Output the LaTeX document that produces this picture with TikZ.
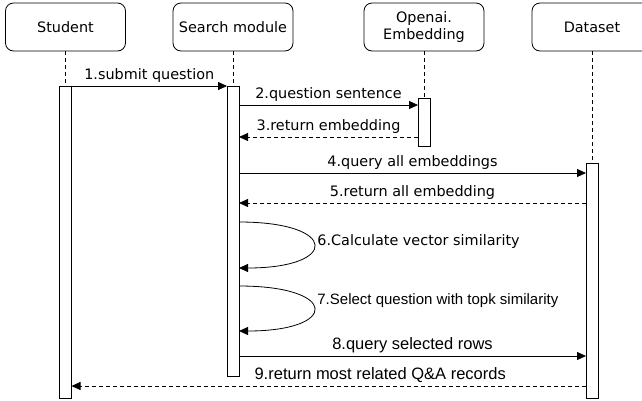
\documentclass[tikz,border=0pt]{standalone}
\usepackage{fontspec}
\setmainfont{DejaVu Sans}
\newfontfamily\arialfont{Liberation Sans}
\usetikzlibrary{arrows.meta}

\begin{document}
\begin{tikzpicture}[x=1pt,y=-1pt,>={Triangle[length=9pt,width=8pt]},
  line width=0.8pt,font=\fontsize{14.4}{17}\selectfont,
  actor/.style={draw,rounded corners=8pt,minimum width=120pt,
    minimum height=48pt,align=center,inner sep=0pt,outer sep=0pt},
  bar/.style={draw,fill=white,minimum width=12pt,inner sep=0pt,outer sep=0pt},
  life/.style={dashed,dash pattern=on 4pt off 3pt,line width=0.7pt},
  msg/.style={->},
  ret/.style={->,dashed,dash pattern=on 4pt off 3pt},
  lbl/.style={inner sep=3pt},
  arl/.style={inner sep=3pt,font=\arialfont\fontsize{16.5}{19}\selectfont}]

  \useasboundingbox (0,0) rectangle (642,400);
  \clip (0,0) rectangle (642,400);

  % ---- header boxes ----
  \node[actor] (student) at (65.5,27) {Student};
  \node[actor] (search)  at (233,27)  {Search module};
  \node[actor] (openai)  at (424,27)  {Openai.\\Embedding};
  \node[actor] (dataset) at (592,27)  {Dataset};

  % ---- activation bars ----
  \node[bar,minimum height=312pt] (bstu) at (65.5,242) {};
  \node[bar,minimum height=290pt] (bsea) at (233,231)  {};
  \node[bar,minimum height=48pt]  (bopn) at (424,122)  {};
  \node[bar,minimum height=235pt] (bdat) at (592,280.5) {};

  % ---- lifelines ----
  \draw[life] (student) -- (bstu);
  \draw[life] (search)  -- (bsea);
  \draw[life] (openai)  -- (bopn);
  \draw[life] (dataset) -- (bdat);

  % ---- messages ----
  \draw[msg] (bstu.east |- 0,86) -- node[lbl,above] {1.submit question} (bsea.west |- 0,86);
  \draw[msg] (bsea.east |- 0,105) -- node[lbl,above] {2.question sentence} (bopn.west |- 0,105);
  \draw[ret] (bopn.west |- 0,137) -- node[lbl,above] {3.return embedding} (bsea.east |- 0,137);
  \draw[msg] (bsea.east |- 0,173) -- node[lbl,above] {4.query all embeddings} (bdat.west |- 0,173);
  \draw[ret] (bdat.west |- 0,203) -- node[lbl,above] {5.return all embedding} (bsea.east |- 0,203);

  % ---- self calls ----
  \draw[msg] (bsea.east |- 0,222) .. controls +(100,0) and +(100,0) .. (bsea.east |- 0,268);
  \node[lbl,anchor=west] (l6) at (314,242) {6.Calculate vector similarity};
  \draw[msg] (bsea.east |- 0,286) .. controls +(100,0) and +(100,0) .. (bsea.east |- 0,331);
  \node[lbl,anchor=west,font=\arialfont\fontsize{15}{18}\selectfont] (l7) at (314,301)
    {7.Select question with topk similarity};

  \draw[msg] (bsea.east |- 0,356) -- node[arl,above] {8.query selected rows} (bdat.west |- 0,356);
  \draw[ret] (bdat.west |- 0,386) -- node[arl,above,pos=0.4] {9.return most related Q\&A records} (bstu.east |- 0,386);

\end{tikzpicture}
\end{document}
